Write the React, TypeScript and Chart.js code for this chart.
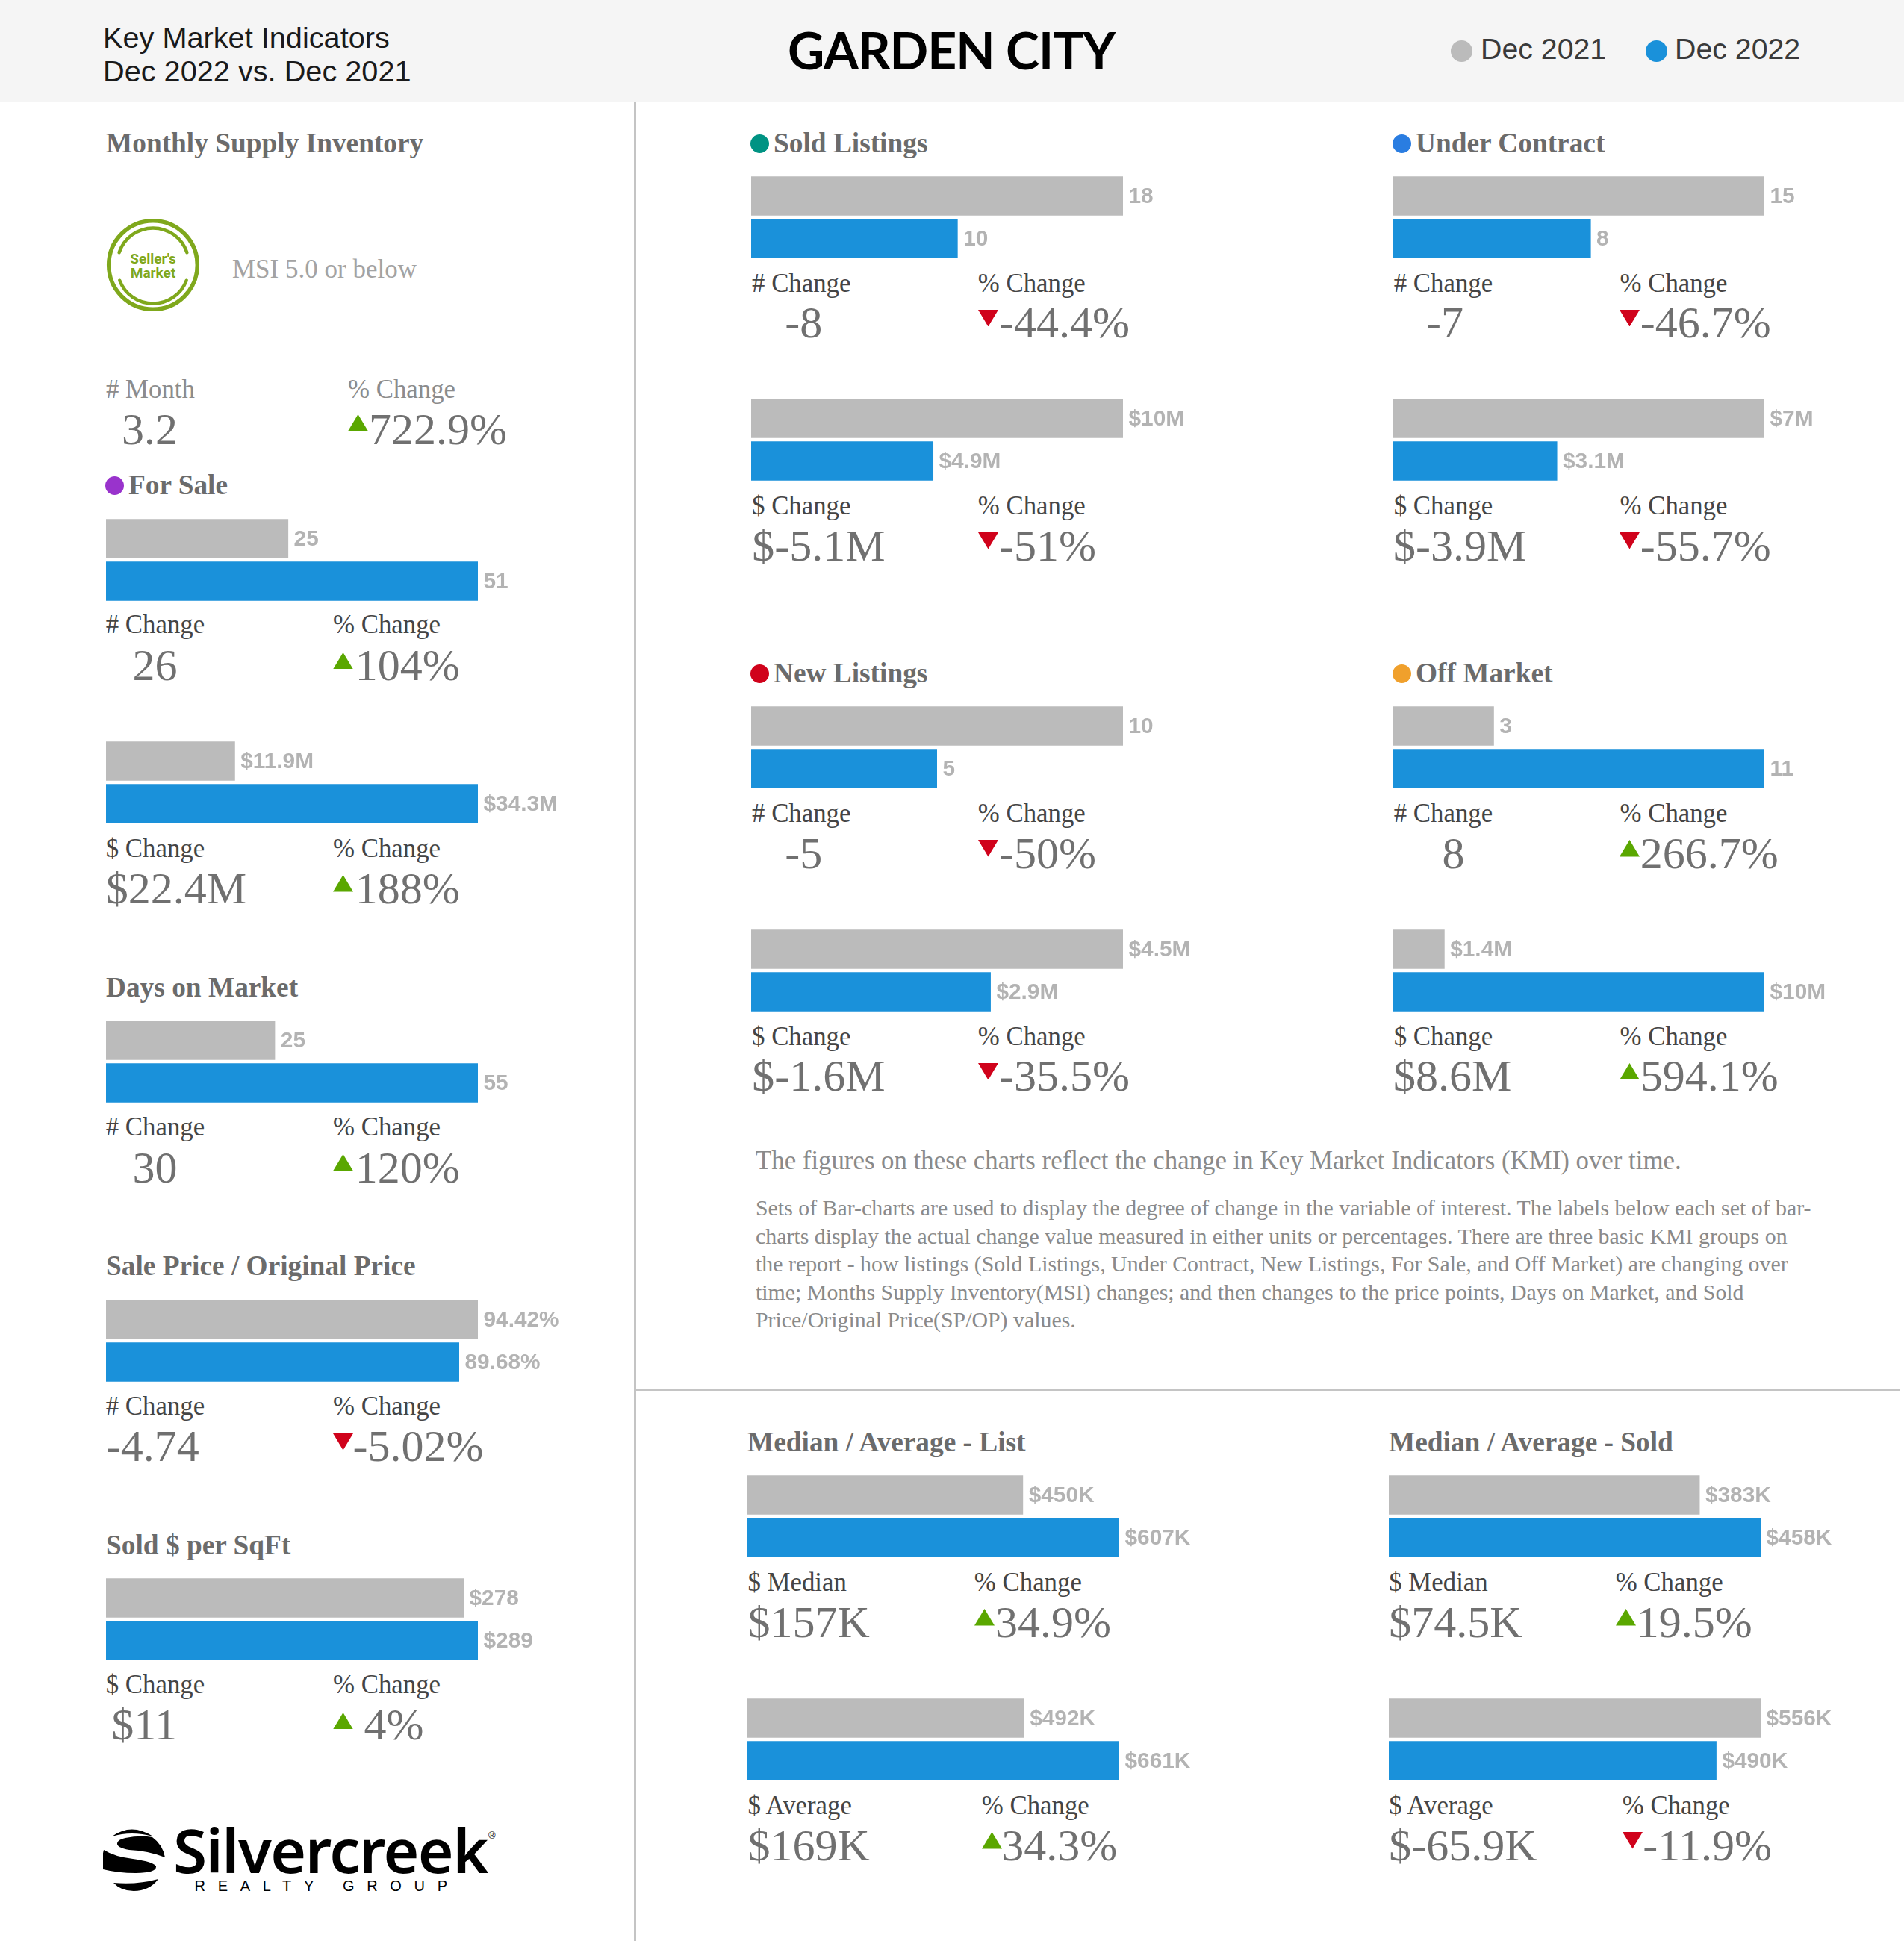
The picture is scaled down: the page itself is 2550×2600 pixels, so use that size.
import React, { useEffect, useRef } from "react";
import { Chart, registerables } from "chart.js";

Chart.register(...registerables);

// ---------- data ----------
const periods = ["Dec 2021", "Dec 2022"];
const panelNames = ["For Sale #", "For Sale $", "Days on Market", "Sale Price / Original Price", "Sold $ per SqFt", "Sold Listings #", "Sold Listings $", "Under Contract #", "Under Contract $", "New Listings #", "New Listings $", "Off Market #", "Off Market $", "Median List", "Average List", "Median Sold", "Average Sold"];
const dec2021Values = [25, 11.9, 25, 94.42, 278, 18, 10, 15, 7, 10, 4.5, 3, 1.4, 450, 492, 383, 556];
const dec2022Values = [51, 34.3, 55, 89.68, 289, 10, 4.9, 8, 3.1, 5, 2.9, 11, 10, 607, 661, 458, 490];
const dec2021Labels = ["25", "$11.9M", "25", "94.42%", "$278", "18", "$10M", "15", "$7M", "10", "$4.5M", "3", "$1.4M", "$450K", "$492K", "$383K", "$556K"];
const dec2022Labels = ["51", "$34.3M", "55", "89.68%", "$289", "10", "$4.9M", "8", "$3.1M", "5", "$2.9M", "11", "$10M", "$607K", "$661K", "$458K", "$490K"];
const changeCaptions = ["# Change", "$ Change", "# Change", "# Change", "$ Change", "# Change", "$ Change", "# Change", "$ Change", "# Change", "$ Change", "# Change", "$ Change", "$ Median", "$ Average", "$ Median", "$ Average"];
const changeValues = ["26", "$22.4M", "30", "-4.74", "$11", "-8", "$-5.1M", "-7", "$-3.9M", "-5", "$-1.6M", "8", "$8.6M", "$157K", "$169K", "$74.5K", "$-65.9K"];
const percentValues = ["104%", "188%", "120%", "-5.02%", "4%", "-44.4%", "-51%", "-46.7%", "-55.7%", "-50%", "-35.5%", "266.7%", "594.1%", "34.9%", "34.3%", "19.5%", "-11.9%"];
const percentRising = [true, true, true, false, true, false, false, false, false, false, false, true, true, true, true, true, false];

const paragraphLines = [
  "Sets of Bar-charts are used to display the degree of change in the variable of interest. The labels below each set of bar-",
  "charts display the actual change value measured in either units or percentages. There are three basic KMI groups on",
  "the report - how listings (Sold Listings, Under Contract, New Listings, For Sale, and Off Market) are changing over",
  "time; Months Supply Inventory(MSI) changes; and then changes to the price points, Days on Market, and Sold",
  "Price/Original Price(SP/OP) values.",
];

// ---------- layout (px) ----------
const S = 2550 / 1538;
const panelX = [85.5, 85.5, 85.5, 85.5, 85.5, 606.5, 606.5, 1125, 1125, 606.5, 606.5, 1125, 1125, 604, 604, 1122, 1122].map((v) => v * S);
const panelTop = [695, 993.5, 1367.5, 1741, 2114, 236, 534.5, 236, 534.5, 946.5, 1245, 946.5, 1245, 1976.5, 2275.5, 1976.5, 2275.5];
const changeX = [107, 85.5, 107, 85.5, 90, 634, 607.5, 1152, 1125.5, 634, 607.5, 1165, 1125.5, 604, 604, 1122, 1122].map((v) => v * S);
const pctCaptionX = [269, 269, 269, 269, 269, 790, 790, 1308.5, 1308.5, 790, 790, 1308.5, 1308.5, 787, 793, 1305, 1310.5].map((v) => v * S);
const pctX = [287, 287, 287, 285, 294, 807, 807, 1325, 1325, 807, 807, 1325, 1325, 804, 809, 1322, 1327].map((v) => v * S);
const captionDrop = [154, 156, 155, 155.5, 155.5, 156, 156, 156, 156, 156, 156, 156, 156, 155.5, 155.5, 155.5, 155.5];

const titles: [string, number, number, string?][] = [
  ["Monthly Supply Inventory", 142, 204.5],
  ["For Sale", 172, 662, "#9933cc"],
  ["Days on Market", 142, 1335],
  ["Sale Price / Original Price", 142, 1708],
  ["Sold $ per SqFt", 142, 2082],
  ["Sold Listings", 1036, 204.5, "#009383"],
  ["Under Contract", 1896, 204.5, "#2a7de1"],
  ["New Listings", 1036, 914, "#d0021b"],
  ["Off Market", 1896, 914, "#f0a02c"],
  ["Median / Average - List", 1001, 1944.5],
  ["Median / Average - Sold", 1860, 1944.5],
];

const GREY = "#bbbbbb";
const BLUE = "#1a91da";
const SERIF = "'Liberation Serif', serif";
const SANS = "'Liberation Sans', sans-serif";

const barLabelPlugin = {
  id: "barLabels",
  afterDatasetsDraw(chart: any) {
    const { ctx } = chart;
    const labels: string[] = chart.options.plugins.barLabels.labels;
    ctx.save();
    ctx.font = "bold 29.8px " + SANS;
    ctx.fillStyle = "#b3b3b3";
    ctx.textAlign = "left";
    ctx.textBaseline = "alphabetic";
    chart.getDatasetMeta(0).data.forEach((bar: any, i: number) => {
      ctx.fillText(labels[i], bar.x + 7.5, bar.y + 9.5);
    });
    ctx.restore();
  },
};

function BarPair({ index }: { index: number }) {
  const ref = useRef<HTMLCanvasElement>(null);
  useEffect(() => {
    const a = dec2021Values[index];
    const b = dec2022Values[index];
    const chart = new Chart(ref.current as HTMLCanvasElement, {
      type: "bar",
      data: {
        labels: periods,
        datasets: [
          {
            label: panelNames[index],
            data: [a, b],
            backgroundColor: [GREY, BLUE],
            borderWidth: 0,
            barPercentage: 52.5 / 57,
            categoryPercentage: 1,
          },
        ],
      },
      options: {
        indexAxis: "y",
        responsive: false,
        animation: false,
        layout: { padding: { right: 152 } },
        scales: {
          x: { display: false, min: 0, max: Math.max(a, b) },
          y: { display: false },
        },
        plugins: {
          legend: { display: false },
          tooltip: { enabled: false },
          barLabels: { labels: [dec2021Labels[index], dec2022Labels[index]] },
        },
      } as any,
      plugins: [barLabelPlugin],
    });
    return () => chart.destroy();
  }, [index]);
  return (
    <canvas
      ref={ref}
      width={650}
      height={114}
      style={{ position: "absolute", left: panelX[index], top: panelTop[index] - 2.25, width: 650, height: 114 }}
    />
  );
}

function Txt({ x, y, size, color, font = SERIF, weight = 400, spacing, children }: any) {
  return (
    <div
      style={{
        position: "absolute",
        left: x,
        top: y - size * 0.84,
        fontSize: size,
        lineHeight: 1,
        fontFamily: font,
        fontWeight: weight,
        color,
        whiteSpace: "pre",
        letterSpacing: spacing,
      }}
    >
      {children}
    </div>
  );
}

function Tri({ x, y, up }: { x: number; y: number; up: boolean }) {
  return (
    <svg style={{ position: "absolute", left: x, top: y, width: 27, height: 22.5 }} viewBox="0 0 27 22.5">
      <polygon points={up ? "13.5,0 27,22.5 0,22.5" : "0,0 27,0 13.5,22.5"} fill={up ? "#5aa700" : "#d0021b"} />
    </svg>
  );
}

function Dot({ cx, cy, r, color }: { cx: number; cy: number; r: number; color: string }) {
  return (
    <div style={{ position: "absolute", left: cx - r, top: cy - r, width: 2 * r, height: 2 * r, borderRadius: "50%", background: color }} />
  );
}

function Stats({ index }: { index: number }) {
  const top = panelTop[index];
  const up = percentRising[index];
  const base = top + 216.5;
  const captionX = panelX[index] + (index >= 5 && index <= 12 ? 1.5 : 0);
  const captionY = top + captionDrop[index];
  return (
    <>
      <Txt x={captionX} y={captionY} size={34.8} color="#454545">{changeCaptions[index]}</Txt>
      <Txt x={pctCaptionX[index]} y={captionY} size={34.8} color="#454545">% Change</Txt>
      <Txt x={changeX[index]} y={base} size={60} color="#707070">{changeValues[index]}</Txt>
      <Tri x={pctCaptionX[index]} y={base - (index === 4 ? 37 : 38)} up={up} />
      <Txt x={pctX[index]} y={base} size={60} color="#707070">{percentValues[index]}</Txt>
    </>
  );
}

function Badge() {
  const c = "#7fa81c";
  return (
    <svg style={{ position: "absolute", left: 140, top: 290 }} width={130} height={130} viewBox="-65 -65 130 130">
      <circle r={59.3} fill="none" stroke={c} strokeWidth={5.5} />
      <path d="M -45.4 -16.7 A 47.8 47.8 0 0 1 45.4 -16.7" fill="none" stroke={c} strokeWidth={4.5} strokeLinecap="round" />
      <path d="M -44.7 20.7 A 47.8 47.8 0 0 0 44.7 20.7" fill="none" stroke={c} strokeWidth={4.5} strokeLinecap="round" />
      <text x={0} y={-2.3} textAnchor="middle" fontFamily="Roboto" fontWeight={700} fontSize={19} fill={c}>Seller's</text>
      <text x={0} y={17.3} textAnchor="middle" fontFamily="Roboto" fontWeight={700} fontSize={19} fill={c}>Market</text>
    </svg>
  );
}

function Logo() {
  return (
    <>
      <svg style={{ position: "absolute", left: 138, top: 2449 }} width={86} height={86} viewBox="0 0 86 86">
        <path d="M12 11 Q38 -8 67 11 Q38 3 12 11 Z" fill="#000" />
        <path d="M30 13 Q50 9 66 12 Q80 22 83 39 Q60 30 35 29 Q18 26 19 20 Q20 15 30 13 Z" fill="#000" />
        <path d="M1 29 Q15 38 40 41 Q68 45 71 51 Q72 60 44 60 Q20 60 0 55 Q-2 40 1 29 Z" fill="#000" />
        <path d="M14 73 Q45 76 74 68 Q62 84 41 84 Q24 84 14 73 Z" fill="#000" />
      </svg>
      <Txt x={232} y={2505} size={82} color="#000" font="'Noto Sans', sans-serif" weight={600} spacing={-1.5}>Silvercreek</Txt>
      <Txt x={654} y={2463} size={13} color="#000" font={SANS}>®</Txt>
      <Txt x={260.5} y={2533} size={20} color="#000" font={SANS} spacing={16.7}>REALTY GROUP</Txt>
    </>
  );
}

export default function App() {
  return (
    <div style={{ position: "absolute", left: 0, top: 0, width: 2550, height: 2600, background: "#fff", overflow: "hidden" }}>
      {/* header */}
      <div style={{ position: "absolute", left: 0, top: 0, width: 2550, height: 137, background: "#f5f5f5" }} />
      <Txt x={138} y={64.5} size={39.7} color="#1a1a1a" font={SANS}>Key Market Indicators</Txt>
      <Txt x={138} y={109.5} size={39.7} color="#1a1a1a" font={SANS}>Dec 2022 vs. Dec 2021</Txt>
      <Txt x={1055} y={90} size={68} color="#000" font="Lato" weight={700} spacing={-1.05}>GARDEN CITY</Txt>
      <Dot cx={1957} cy={68} r={14.5} color={GREY} />
      <Txt x={1983} y={79} size={39.3} color="#3a3a3a" font={SANS}>{periods[0]}</Txt>
      <Dot cx={2218} cy={68} r={14.5} color={BLUE} />
      <Txt x={2243} y={79} size={39.3} color="#3a3a3a" font={SANS}>{periods[1]}</Txt>

      {/* dividers */}
      <div style={{ position: "absolute", left: 849, top: 137, width: 3, height: 2463, background: "#c4c4c4" }} />
      <div style={{ position: "absolute", left: 851, top: 1860, width: 1694, height: 3, background: "#c4c4c4" }} />

      {/* titles */}
      {titles.map(([t, x, y, dot]) => (
        <React.Fragment key={t}>
          {dot ? <Dot cx={x - 19} cy={y - 12} r={12.5} color={dot} /> : null}
          <Txt x={x} y={y} size={37.33} color="#6b6b6b" weight={700}>{t}</Txt>
        </React.Fragment>
      ))}

      {/* monthly supply inventory */}
      <Badge />
      <Txt x={311} y={372} size={35} color="#a3a3a3">MSI 5.0 or below</Txt>
      <Txt x={142} y={534} size={34.8} color="#8c8c8c"># Month</Txt>
      <Txt x={466} y={534} size={34.8} color="#8c8c8c">% Change</Txt>
      <Txt x={163} y={595} size={60} color="#707070">3.2</Txt>
      <Tri x={466} y={555} up={true} />
      <Txt x={494} y={595} size={60} color="#707070">722.9%</Txt>

      {/* bars + stats */}
      {panelNames.map((_, i) => (
        <React.Fragment key={i}>
          <BarPair index={i} />
          <Stats index={i} />
        </React.Fragment>
      ))}

      {/* notes */}
      <Txt x={1012} y={1567} size={34.8} color="#8a8a8a">The figures on these charts reflect the change in Key Market Indicators (KMI) over time.</Txt>
      {paragraphLines.map((line, i) => (
        <Txt key={i} x={1012} y={1628.5 + i * 37.5} size={29.87} color="#8a8a8a">{line}</Txt>
      ))}

      <Logo />
    </div>
  );
}
